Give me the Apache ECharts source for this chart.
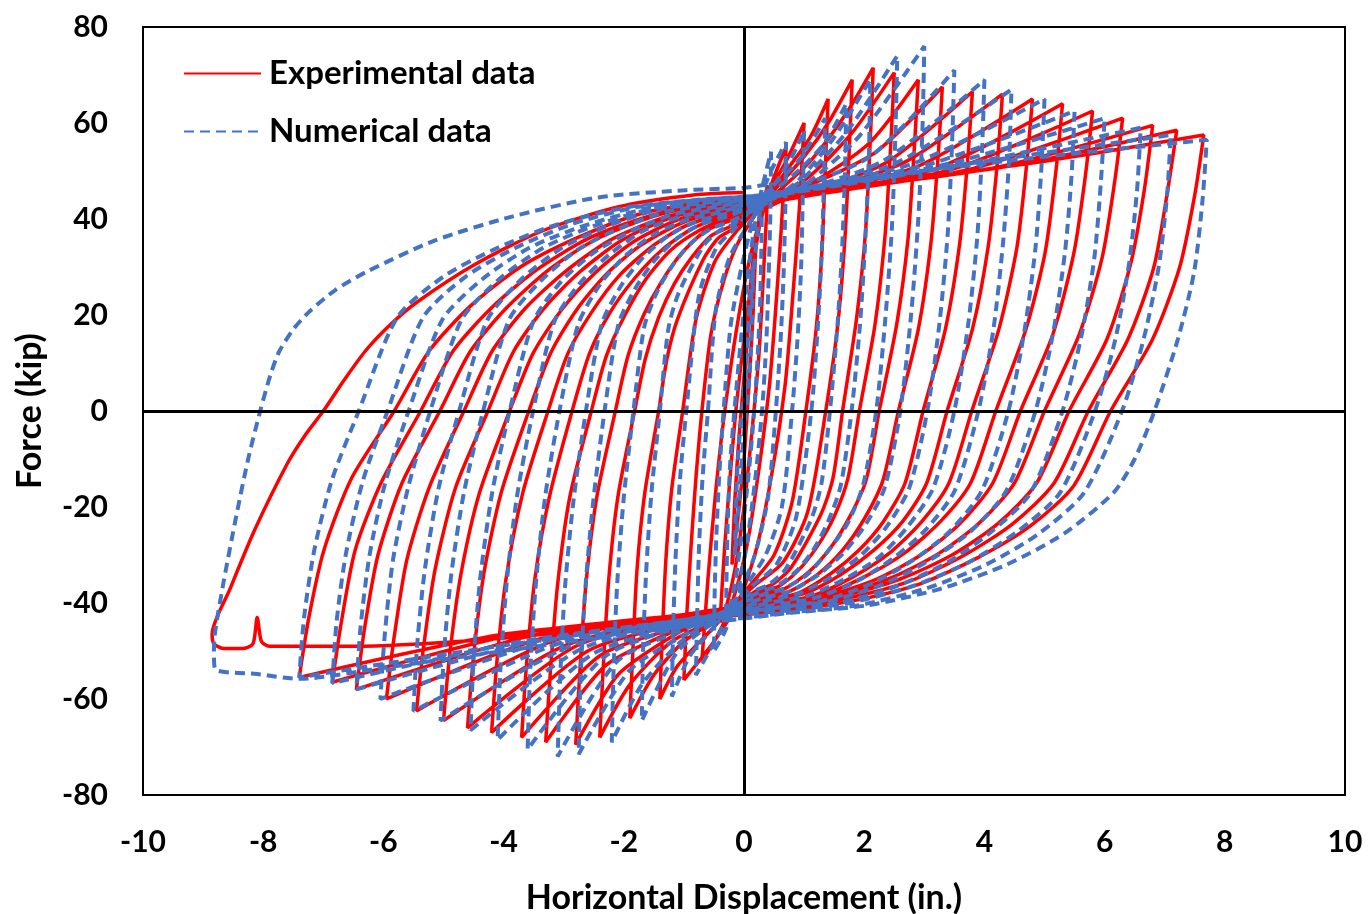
<!DOCTYPE html>
<html>
<head>
<meta charset="utf-8">
<script src="https://cdn.jsdelivr.net/npm/echarts@6/dist/echarts.min.js"></script>
<style>
  html, body { margin: 0; padding: 0; background: #ffffff; }
  #chart { width: 1368px; height: 914px; }
</style>
</head>
<body>
<div id="chart"></div>
<script>
// Cyclic test: horizontal displacement (in.) vs. force (kip).
// Each path is written as [displacement, force] pairs in loading order.

// Experimental record, small cycles (peaks up to about +/-1.9 in.)
const expSmall = [
  [0,0],[0.05,15],[0.12,28],[0.2,36],
  [0.15,20],[0.08,5],[0,-10],[-0.1,-22],[-0.2,-32],
  [-0.15,-18],[-0.08,-5],[0.02,10],[0.15,30],[0.28,42],[0.4,47],
  [0.33,30],[0.25,12],[0.15,-2],[0,-20],[-0.15,-33],[-0.3,-41],[-0.4,-44],
  [-0.32,-28],[-0.22,-12],[-0.12,2],[0.05,20],[0.25,38],[0.45,47],[0.7,55],
  [0.62,38],[0.52,20],[0.42,5],[0.25,-12],[0.05,-28],[-0.2,-40],[-0.45,-47],[-0.7,-52],
  [-0.6,-35],[-0.48,-18],[-0.35,-3],[-0.15,15],[0.1,32],[0.4,45],[0.7,52],[1.0,60],
  [0.92,42],[0.8,22],[0.68,5],[0.45,-14],[0.2,-29],[-0.1,-40],[-0.5,-48],[-1.0,-56],
  [-0.95,-42],[-0.88,-28],[-0.8,-14],[-0.7,0],[-0.55,16],[-0.34,27],[-0.1,35],[0.3,43],[0.7,50],[1.1,57],[1.4,65],
  [1.35,50],[1.3,34],[1.2,17],[1.03,0],[0.8,-19],[0.5,-30],[0.12,-36],[-0.5,-45],[-1.1,-53],[-1.4,-60],
  [-1.36,-47],[-1.3,-31],[-1.2,-16],[-1.02,0],[-0.8,19],[-0.49,31],[-0.12,37.5],[0.5,46],[1.0,53],[1.4,60],[1.8,69],
  [1.75,54],[1.68,36],[1.56,18],[1.36,0],[1.06,-21],[0.65,-31.5],[0.16,-36.5],[-0.4,-43],[-1.0,-48],[-1.5,-55],[-1.9,-64]
];

// Experimental record, intermediate cycles
const expMid = [
  [-1.85,-50],[-1.78,-33],[-1.65,-17],[-1.42,0],[-1.28,11],[-1.11,19],[-0.68,31.5],[-0.43,36],[-0.17,38],[0.5,45],[1.1,52],[1.7,62],[2.15,71.5],
  [2.1,56],[2.02,37],[1.87,19],[1.64,0],[1.48,-14],[1.28,-21.5],[0.79,-32.5],[0.49,-36],[0.2,-37.5],[-0.4,-43],[-1.2,-48],[-1.9,-57],[-2.4,-68],
  [-2.34,-53],[-2.25,-35],[-2.1,-18],[-1.82,0],[-1.64,11],[-1.42,19.5],[-1.16,26.5],[-0.87,32],[-0.55,36.5],[-0.22,38.5],[0.4,43],[1.1,49],[1.8,58],[2.5,70.5],
  [2.44,55],[2.35,37],[2.18,18],[1.92,0],[1.73,-14],[1.5,-22],[1.23,-28],[0.92,-33],[0.58,-36.5],[0.23,-38],[-0.3,-41],[-1.2,-47],[-2.1,-55],[-2.8,-69.5],
  [-2.73,-54],[-2.63,-36],[-2.45,-18],[-2.14,0],[-1.93,11.5],[-1.67,20],[-1.37,27],[-1.03,33],[-0.64,37.5],[-0.26,39.5],[0.3,42],[1.2,48],[2.1,56],[2.9,69],
  [2.83,54],[2.73,36],[2.54,18],[2.25,0],[2.03,-14.5],[1.76,-22],[1.44,-28.5],[1.08,-33.5],[0.68,-37],[0.27,-38.5],[-0.2,-40.5],[-1.2,-46],[-2.3,-53],[-3.3,-69],
  [-3.22,-54],[-3.1,-36],[-2.9,-18],[-2.54,0],[-2.29,11.5],[-1.98,20],[-1.63,27.5],[-1.22,33.5],[-0.76,37.5],[-0.3,40],[0.4,42.5],[1.1,47],[2.2,54],[3.3,67.5],
  [3.23,53],[3.11,35],[2.9,17],[2.57,0],[2.31,-14.5],[2.0,-22.5],[1.64,-29],[1.23,-34],[0.77,-37.5],[0.31,-39],[-0.3,-41.5],[-1.1,-45],[-2.4,-51],[-3.7,-68],
  [-3.62,-53],[-3.48,-35],[-3.24,-18],[-2.86,0],[-2.57,12],[-2.23,20.5],[-1.83,27.5],[-1.37,33.5],[-0.86,38],[-0.34,40.5],[0.4,43],[1.2,46],[2.4,52],[3.8,66.5],
  [3.72,52],[3.59,35],[3.35,17],[2.98,0],[2.68,-15],[2.32,-23],[1.91,-29],[1.43,-34],[0.89,-38],[0.36,-39.5],[-0.3,-41.5],[-1.0,-44],[-2.6,-50],[-4.2,-67],
  [-4.11,-52],[-3.96,-35],[-3.68,-17],[-3.26,0],[-2.93,12],[-2.54,20.5],[-2.09,28],[-1.56,34],[-0.98,38.5],[-0.39,41],[0.5,43.5],[1.3,46],[2.7,52],[4.3,66],
  [4.21,51],[4.06,34],[3.8,17],[3.38,0],[3.04,-15],[2.64,-23],[2.16,-29],[1.62,-34],[1.01,-38],[0.41,-39.5],[-0.3,-41.5],[-0.9,-43],[-2.8,-49],[-4.6,-66]
];

// Experimental record, large cycles
const expLarge = [
  [-4.5,-51],[-4.33,-34],[-4.04,-17],[-3.58,0],[-3.22,12],[-2.79,21],[-2.29,28.5],[-1.72,34.5],[-1.07,39],[-0.43,41.5],[0.9,44.5],[2.9,51],[4.8,65],
  [4.7,51],[4.54,34],[4.24,17],[3.79,0],[3.41,-15],[2.96,-23],[2.43,-29.5],[1.82,-34.5],[1.14,-38.5],[0.45,-40],[-0.9,-42.5],[-3.0,-49],[-5.0,-64.5],
  [-4.89,-50],[-4.71,-34],[-4.4,-17],[-3.9,0],[-3.51,12],[-3.04,21],[-2.5,28.5],[-1.87,35],[-1.17,39.5],[-0.47,42],[0.9,44.5],[3.2,50.5],[5.3,64],
  [5.19,50],[5.01,33],[4.69,17],[4.19,0],[3.77,-15],[3.27,-23],[2.68,-29.5],[2.01,-34.5],[1.26,-38.5],[0.5,-40],[-0.8,-42],[-3.2,-48],[-5.45,-62.5],
  [-5.33,-49],[-5.14,-33],[-4.8,-16],[-4.26,0],[-3.83,12.5],[-3.32,21.5],[-2.73,29],[-2.04,35.5],[-1.28,40],[-0.51,42.5],[0.9,44.5],[3.5,50.5],[5.8,62.5],
  [5.68,49],[5.49,33],[5.14,16],[4.6,0],[4.14,-15],[3.59,-23.5],[2.94,-30],[2.21,-35],[1.38,-38.5],[0.55,-40.5],[-0.7,-42],[-3.4,-47.5],[-5.95,-60],
  [-5.82,-47],[-5.61,-31],[-5.24,-16],[-4.66,0],[-4.19,12.5],[-3.63,21.5],[-2.98,29],[-2.24,35.5],[-1.4,40],[-0.56,42.5],[0.8,44.5],[3.8,50.5],[6.3,61],
  [6.17,48],[5.96,32],[5.58,16],[5.0,0],[4.5,-15],[3.9,-23.5],[3.2,-30],[2.4,-35],[1.5,-38.5],[0.6,-40.5],[-0.7,-42],[-3.6,-47],[-6.45,-58],
  [-6.31,-45],[-6.09,-30],[-5.69,-15],[-5.06,0],[-4.55,12.5],[-3.95,21.5],[-3.24,29.5],[-2.43,36],[-1.52,40.5],[-0.61,43],[0.7,45],[4.1,50.5],[6.8,59.5],
  [6.66,46],[6.44,31],[6.04,15],[5.41,0],[4.87,-15],[4.22,-23.5],[3.46,-30],[2.6,-35],[1.62,-38.5],[0.65,-40.5],[-0.6,-42],[-3.8,-46.5],[-6.85,-56.5],
  [-6.7,-44],[-6.47,-29],[-6.04,-15],[-5.38,0],[-4.84,12.5],[-4.2,21.5],[-3.44,29.5],[-2.58,36],[-1.61,40.5],[-0.65,43],[0.6,45],[4.4,51],[7.2,58.5],
  [7.05,46],[6.82,30],[6.39,15],[5.73,0],[5.16,-15],[4.47,-23.5],[3.67,-30],[2.75,-35.5],[1.72,-39],[0.69,-41],[-0.5,-42.5],[-4.0,-46.5],[-7.4,-55.5],
  [-7.24,-43],[-6.99,-29],[-6.53,-14],[-5.82,0],[-5.24,12.5],[-4.54,22],[-3.72,30],[-2.79,36],[-1.75,41],[-0.7,43.5],[0.5,45],[4.7,51.5],[7.65,57.5]
];

// Experimental record, last excursion to the left and final reloading
const expFinal = [
  [7.5,45],[7.25,30],[6.8,15],[6.1,0],[5.49,-15.5],[4.76,-24],[3.9,-30.5],[2.93,-36],[1.83,-39.5],[0.73,-41.5],
  [-0.5,-43],[-2.5,-45.5],[-4.5,-47.8],[-6.5,-49],[-7.9,-49],[-8.03,-48],[-8.1,-43],[-8.17,-48.5],[-8.35,-49.5],
  [-8.65,-49.5],[-8.82,-48.5],[-8.85,-46.5],
  [-8.55,-37],[-8.15,-25],[-7.6,-11],[-7.3,-5],[-7.0,0],[-6.65,6.5],[-6.3,12.5],[-5.9,17.8],[-5.46,22.5],
  [-4.48,30.5],[-3.36,37.5],[-2.1,42.5],[-0.84,45],[0,45.5]
];

// Numerical model, small cycles
const numSmall = [
  [0,0],[0.05,12],[0.1,23],[0.15,30],
  [0.14,23],[0.12,15],[0.09,7],[0.035,0],[-0.05,-12],[-0.1,-22],[-0.15,-30],
  [-0.14,-23],[-0.12,-15],[-0.085,-7],[-0.03,0],[0.05,14],[0.15,28],[0.23,38],[0.3,45],
  [0.29,35],[0.27,23],[0.23,12],[0.17,0],[0.07,-14],[-0.05,-27],[-0.18,-38],[-0.3,-44],
  [-0.29,-34],[-0.27,-23],[-0.23,-11],[-0.16,0],[-0.05,15],[0.08,30],[0.22,42],[0.35,49],[0.45,54],
  [0.44,42],[0.41,28],[0.37,14],[0.3,0],[0.18,-15],[0.03,-29],[-0.15,-40],[-0.32,-46],[-0.5,-50],
  [-0.49,-39],[-0.46,-26],[-0.41,-13],[-0.34,0],[-0.22,18],[-0.04,30],[0.2,42],[0.45,50],[0.7,56],
  [0.69,44],[0.66,29],[0.61,15],[0.53,0],[0.4,-18],[0.18,-30],[-0.08,-38],[-0.4,-46],[-0.8,-55],
  [-0.78,-43],[-0.75,-29],[-0.69,-14],[-0.6,0],[-0.47,21],[-0.24,32],[0.08,39],[0.5,47],[0.8,53],[1.0,58.5],
  [0.98,46],[0.95,30],[0.89,15],[0.8,0],[0.63,-20],[0.36,-30],[0.05,-36],[-0.5,-45],[-0.9,-51],[-1.2,-59.5],
  [-1.18,-46],[-1.14,-31],[-1.07,-15],[-0.96,0],[-0.75,24],[-0.46,34],[-0.12,38.5],[0.4,46],[0.9,52],[1.35,61],
  [1.33,48],[1.29,32],[1.22,16],[1.12,0],[0.87,-22],[0.54,-32],[0.13,-36.5],[-0.4,-43],[-1.1,-50],[-1.7,-64.5],
  [-1.68,-50],[-1.63,-34],[-1.54,-17],[-1.4,0],[-1.26,17],[-1.09,24.5],[-0.67,34.5],[-0.42,37.5],[-0.17,39],[0.3,44],[0.9,50],[1.35,56],[1.7,64],
  [1.68,50],[1.63,33],[1.55,17],[1.43,0],[1.29,-15],[1.12,-22.5],[0.69,-33],[0.43,-36],[0.17,-37.5],[-0.3,-42],[-1.0,-47.5],[-1.7,-57],[-2.2,-69]
];

// Numerical model, intermediate cycles
const numMid = [
  [-2.17,-54],[-2.11,-36],[-2.0,-18],[-1.84,0],[-1.66,17.5],[-1.44,25],[-1.18,30.5],[-0.88,35],[-0.55,38],[-0.22,39.5],[0.4,43.5],[0.9,48],[1.5,57],[2.1,69],
  [2.08,54],[2.02,36],[1.93,18],[1.79,0],[1.61,-15.5],[1.4,-23],[1.15,-29],[0.86,-33.5],[0.54,-36.5],[0.21,-38],[-0.2,-41],[-0.9,-46],[-1.9,-54],[-2.75,-71.5],
  [-2.72,-56],[-2.64,-37],[-2.51,-19],[-2.32,0],[-2.09,18],[-1.81,25.5],[-1.48,31.5],[-1.11,36],[-0.7,39],[-0.28,40.5],[0.4,44],[0.9,47.5],[1.7,58],[2.55,74],
  [2.52,58],[2.46,38],[2.35,19],[2.2,0],[1.98,-15.5],[1.72,-23.5],[1.41,-29],[1.06,-34],[0.66,-37],[0.26,-38.5],[-0.2,-41],[-0.9,-45],[-2.1,-52],[-3.1,-72],
  [-3.06,-56],[-2.98,-37],[-2.84,-19],[-2.63,0],[-2.37,18],[-2.05,26],[-1.68,32],[-1.26,36.5],[-0.79,39.5],[-0.32,41],[0.5,44.5],[1.0,47],[1.9,57],[3.0,76],
  [2.97,59],[2.9,40],[2.78,20],[2.6,0],[2.34,-16],[2.03,-23.5],[1.66,-29.5],[1.25,-34],[0.78,-37.5],[0.31,-39],[-0.2,-41.5],[-0.8,-44],[-2.3,-51],[-3.6,-70.5],
  [-3.56,-55],[-3.47,-37],[-3.31,-18],[-3.07,0],[-2.76,18],[-2.39,26.5],[-1.96,32.5],[-1.47,37],[-0.92,40],[-0.37,41.5],[0.6,45.5],[2.1,53],[3.5,71],
  [3.46,55],[3.39,37],[3.25,18],[3.05,0],[2.75,-16],[2.38,-24],[1.95,-30],[1.46,-34.5],[0.92,-38],[0.37,-39.5],[-0.7,-43.5],[-2.5,-50.5],[-4.1,-68.5],
  [-4.05,-53],[-3.95,-36],[-3.78,-18],[-3.51,0],[-3.16,18.5],[-2.74,26.5],[-2.25,32.5],[-1.68,37.5],[-1.05,40.5],[-0.42,42],[0.5,44.5],[2.3,52],[4.0,69],
  [3.96,54],[3.88,36],[3.73,18],[3.5,0],[3.15,-16],[2.73,-24],[2.24,-30.5],[1.68,-35],[1.05,-38.5],[0.42,-40],[-0.6,-43],[-2.7,-49.5],[-4.55,-66.5]
];

// Numerical model, large cycles
const numLarge = [
  [-4.5,-52],[-4.39,-35],[-4.19,-17],[-3.9,0],[-3.51,18.5],[-3.04,27],[-2.5,33],[-1.87,37.5],[-1.17,41],[-0.47,42.5],[0.4,44.5],[2.5,51.5],[4.45,67],
  [4.41,52],[4.31,35],[4.15,17],[3.9,0],[3.51,-16.5],[3.04,-24.5],[2.5,-30.5],[1.87,-35.5],[1.17,-39],[0.47,-40.5],[-0.6,-43],[-2.9,-49],[-5.05,-64.5],
  [-4.99,-50],[-4.87,-34],[-4.66,-17],[-4.34,0],[-3.91,19],[-3.39,27],[-2.78,33.5],[-2.08,38],[-1.3,41.5],[-0.52,43],[0.3,44.5],[2.8,51.5],[5.0,65],
  [4.95,51],[4.85,34],[4.67,17],[4.4,0],[3.96,-16.5],[3.43,-25],[2.82,-31],[2.11,-36],[1.32,-39.5],[0.53,-41],[-0.5,-42.5],[-3.1,-48.5],[-5.5,-62.5],
  [-5.44,-49],[-5.31,-33],[-5.08,-16],[-4.74,0],[-4.27,19],[-3.7,27.5],[-3.03,34],[-2.28,38.5],[-1.42,42],[-0.57,43.5],[0.3,44.5],[3.1,51.5],[5.5,62.5],
  [5.45,49],[5.34,33],[5.14,16],[4.85,0],[4.37,-16.5],[3.78,-25],[3.1,-31],[2.33,-36],[1.46,-39.5],[0.58,-41],[-0.4,-42.5],[-3.3,-48],[-6.05,-60],
  [-5.98,-47],[-5.84,-31],[-5.59,-16],[-5.22,0],[-4.7,19],[-4.07,27.5],[-3.34,34],[-2.51,38.5],[-1.57,42],[-0.63,43.5],[0.3,44.5],[3.4,51.5],[6.0,61],
  [5.94,48],[5.83,32],[5.62,16],[5.3,0],[4.77,-17],[4.13,-25],[3.39,-31.5],[2.54,-36.5],[1.59,-40],[0.64,-41.5],[-0.3,-42.5],[-3.5,-48],[-6.45,-58],
  [-6.38,-45],[-6.23,-30],[-5.97,-15],[-5.58,0],[-5.02,19],[-4.35,27.5],[-3.57,34],[-2.68,38.5],[-1.67,42],[-0.67,43.5],[0.3,44.5],[3.7,51.5],[6.6,59],
  [6.54,46],[6.41,31],[6.18,15],[5.84,0],[5.26,-17],[4.56,-25],[3.74,-31.5],[2.8,-36.5],[1.75,-40],[0.7,-41.5],[-0.2,-42.5],[-3.7,-48],[-6.85,-56.7],
  [-6.78,-44],[-6.62,-29.5],[-6.34,-14.5],[-5.93,0],[-5.34,19.5],[-4.63,28],[-3.8,34],[-2.85,39],[-1.78,42.5],[-0.71,44],[0.3,45],[4.0,52],[7.1,57.5],
  [7.04,45],[6.9,30],[6.65,15],[6.29,0],[5.66,-17],[4.91,-25.5],[4.03,-32],[3.02,-37],[1.89,-40.5],[0.75,-42],[-0.3,-43.5],[-3.8,-48.5],[-7.4,-55.5],
  [-7.32,-43],[-7.15,-29],[-6.86,-14.5],[-6.41,0],[-5.77,19.5],[-5.0,28],[-4.1,34],[-3.08,39],[-1.92,42.5],[-0.77,44],[0.3,45],[1.5,47.5],[4.3,52],[7.7,56.5]
];

// Numerical model, last excursion to the left and final reloading
const numFinal = [
  [7.63,44],[7.49,29],[7.22,15],[6.83,0],[6.5,-10],[6.15,-17],[5.33,-25.5],[4.37,-32],[3.28,-37],[2.05,-40.5],[0.82,-42],
  [-0.5,-44],[-2,-46.5],[-4,-50],[-6,-53.5],[-7.4,-55.8],[-8.1,-54.8],[-8.8,-53.8],[-8.82,-50],[-8.8,-46],
  [-8.65,-35],[-8.45,-22],[-8.25,-10],[-8.05,0],[-7.88,7.5],[-7.73,12.5],[-7.5,17],[-7.25,20.5],[-6.8,25.2],[-6.28,29],[-5.15,35.5],
  [-3.86,40.5],[-2.42,44.5],[-0.97,46],[0,46.5],[0.4,47.2]
];

const seriesNames = ['Experimental data', 'Numerical data'];
const FONT = 'Lato';

const chart = echarts.init(document.getElementById('chart'), null, { renderer: 'canvas' });

chart.setOption({
  backgroundColor: '#ffffff',
  animation: false,
  textStyle: { fontFamily: FONT, fontWeight: 'bold', color: '#000' },
  grid: {
    left: 143, right: 23, top: 27, bottom: 119,
    outerBoundsMode: 'none',
    containLabel: false,
    show: true, borderColor: '#000', borderWidth: 2, backgroundColor: 'transparent'
  },
  legend: {
    orient: 'vertical',
    left: 178, top: 52,
    itemWidth: 77, itemHeight: 4, itemGap: 25,
    itemStyle: { opacity: 0 },
    textStyle: { fontFamily: FONT, fontWeight: 'bold', fontSize: 33, color: '#000', padding: [0, 0, 0, 3] },
    data: seriesNames
  },
  xAxis: {
    type: 'value', min: -10, max: 10, interval: 2,
    name: 'Horizontal Displacement (in.)', nameLocation: 'middle', nameGap: 86,
    nameTextStyle: { fontFamily: FONT, fontWeight: 'bold', fontSize: 34, color: '#000' },
    axisLine: { show: false, onZero: false },
    axisTick: { show: false },
    splitLine: { show: false },
    axisLabel: { margin: 32, fontFamily: FONT, fontWeight: 'bold', fontSize: 30, color: '#000' }
  },
  yAxis: {
    type: 'value', min: -80, max: 80, interval: 20,
    name: 'Force (kip)', nameLocation: 'middle', nameGap: 96,
    nameTextStyle: { fontFamily: FONT, fontWeight: 'bold', fontSize: 34, color: '#000' },
    axisLine: { show: false, onZero: false },
    axisTick: { show: false },
    splitLine: { show: false },
    axisLabel: { margin: 35, fontFamily: FONT, fontWeight: 'bold', fontSize: 30, color: '#000' }
  },
  series: [
    {
      name: seriesNames[0],
      type: 'line',
      data: expSmall.concat(expMid, expLarge, expFinal),
      symbol: 'none',
      smooth: 0.25,
      color: '#ff0000',
      lineStyle: { color: '#ff0000', width: 3.5 },
      z: 2
    },
    {
      name: seriesNames[1],
      type: 'line',
      data: numSmall.concat(numMid, numLarge, numFinal),
      symbol: 'none',
      smooth: 0.25,
      color: '#4472c4',
      lineStyle: { color: '#4472c4', width: 4, type: [10, 6] },
      z: 3,
      markLine: {
        silent: true,
        symbol: 'none',
        label: { show: false },
        lineStyle: { color: '#000', width: 3, type: 'solid' },
        data: [{ xAxis: 0 }, { yAxis: 0 }]
      }
    }
  ]
});
</script>
</body>
</html>
